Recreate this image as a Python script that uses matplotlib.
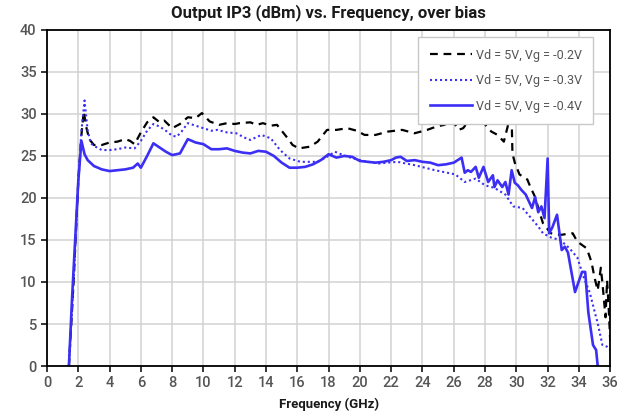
import matplotlib
matplotlib.use("Agg")
import matplotlib.pyplot as plt

plt.rcParams['font.family'] = ['Roboto', 'DejaVu Sans']

# Vd = 5V, Vg = -0.2V (dashed black)
freq_02 = [1.4, 1.7, 2.0, 2.2, 2.35, 2.5, 2.7, 3.0, 3.5, 4.0, 4.5, 5.0, 5.3, 5.6, 6.0, 6.4, 6.8,
           7.2, 7.5, 8.0, 8.5, 9.0, 9.5, 9.9, 10.4, 11.0, 11.5, 12.0, 12.3, 13.0, 13.4, 13.8,
           14.3, 14.7, 15.3, 15.7, 16.1, 16.8, 17.3, 17.9, 18.5, 19.2, 19.8, 20.3, 21.0, 21.8,
           22.7, 23.5, 24.3, 24.9, 25.4, 25.9, 26.3, 26.6, 27.0, 27.4, 27.8, 28.1, 28.4, 28.8,
           29.2, 29.5, 29.7, 29.75, 29.9, 30.2, 30.7, 30.9, 31.2, 31.5, 31.7, 32.2, 32.8, 33.6,
           33.9, 34.5, 34.8, 35.0, 35.2, 35.4, 35.5, 35.6, 35.7, 35.8, 35.9, 36.0]
oip3_02 = [0, 10, 22, 27.5, 30.3, 28.5, 27.0, 26.3, 26.3, 26.6, 26.7, 27.0, 26.8, 26.4, 27.8,
           29.0, 29.6, 29.0, 29.2, 28.3, 28.8, 29.6, 29.5, 30.1, 29.1, 28.7, 28.9, 28.8, 28.9,
           29.0, 28.7, 28.9, 28.6, 28.7, 27.3, 26.3, 25.9, 26.1, 26.7, 28.1, 28.1, 28.3, 28.0,
           27.5, 27.5, 27.9, 28.1, 27.7, 28.1, 28.5, 28.7, 29.3, 28.1, 28.3, 29.3, 29.1, 29.3,
           28.5, 27.9, 27.5, 26.7, 28.9, 29.5, 25.3, 24.2, 22.8, 22.2, 21.3, 20.1, 18.2, 17.0,
           15.8, 15.6, 15.8, 14.8, 14.0, 12.4, 10.5, 9.0, 11.7, 9.9, 7.9, 5.8, 10.2, 7.0, 3.0]

# Vd = 5V, Vg = -0.3V (dotted blue)
freq_03 = [1.4, 1.7, 2.0, 2.2, 2.4, 2.6, 2.8, 3.0, 3.5, 4.0, 4.5, 5.0, 5.6, 6.0, 6.4, 6.8, 7.2,
           7.6, 8.0, 8.3, 8.6, 9.0, 9.5, 10.0, 10.5, 10.9, 11.5, 12.1, 12.6, 13.0, 13.7, 14.3,
           14.9, 15.5, 16.2, 17.3, 17.9, 18.4, 19.2, 19.8, 20.5, 21.2, 22.4, 23.5, 24.8, 26.1,
           26.7, 27.4, 28.0, 28.6, 29.3, 29.8, 30.4, 30.9, 31.4, 31.7, 32.2, 32.8, 33.4, 33.9,
           34.3, 34.7, 35.0, 35.2, 35.5, 35.8, 36.0]
oip3_03 = [0, 10, 22, 28, 31.6, 28, 26.5, 26.2, 25.7, 25.7, 25.8, 26.0, 25.9, 26.8, 28.0, 28.8,
           28.5, 28.0, 27.4, 27.3, 27.9, 28.9, 28.6, 28.3, 28.0, 28.1, 27.8, 27.7, 27.2, 26.9,
           27.5, 27.1, 25.7, 24.7, 24.3, 24.3, 24.9, 25.5, 24.9, 24.6, 24.3, 24.1, 24.3, 23.9,
           23.3, 22.8, 21.9, 22.3, 21.5, 21.2, 20.4, 19.0, 18.8, 17.7, 16.6, 15.8, 15.3, 15.0,
           14.0, 12.9, 10.6, 8.7, 6.5, 5.1, 2.5, 2.3, 1.9]

# Vd = 5V, Vg = -0.4V (solid blue)
freq_04 = [1.4, 1.6, 1.8, 2.0, 2.2, 2.4, 2.6, 3.0, 3.5, 4.0, 4.5, 5.0, 5.5, 5.8, 6.0, 6.4, 6.8,
           7.2, 7.6, 8.0, 8.5, 9.0, 9.5, 10.0, 10.5, 11.0, 11.5, 12.0, 12.5, 13.0, 13.5, 14.0,
           14.5, 15.0, 15.5, 16.0, 16.5, 17.0, 17.5, 18.0, 18.5, 19.0, 19.5, 20.0, 20.5, 21.0,
           21.5, 22.0, 22.3, 22.6, 23.0, 23.5, 24.0, 24.5, 25.0, 25.5, 26.0, 26.5, 26.7, 26.9,
           27.1, 27.4, 27.6, 27.9, 28.2, 28.5, 28.6, 28.8, 29.1, 29.3, 29.5, 29.7, 29.9, 30.1,
           30.3, 30.6, 31.0, 31.2, 31.4, 31.6, 31.8, 32.0, 32.1, 32.3, 32.6, 32.9, 33.1, 33.3,
           33.75, 34.2, 34.4, 34.6, 34.9, 35.1, 35.2]
oip3_04 = [0, 8, 15, 22, 26.8, 25.2, 24.5, 23.8, 23.4, 23.2, 23.3, 23.4, 23.6, 24.1, 23.6, 25.0,
           26.5, 26.0, 25.5, 25.1, 25.3, 27.0, 26.6, 26.4, 25.8, 25.8, 25.9, 25.6, 25.4, 25.3,
           25.6, 25.5, 25.0, 24.2, 23.6, 23.6, 23.7, 24.0, 24.5, 25.2, 24.8, 25.0, 24.9, 24.4,
           24.3, 24.2, 24.3, 24.5, 24.8, 24.9, 24.4, 24.5, 24.3, 24.2, 23.9, 24.0, 24.2, 24.8,
           23.0, 23.3, 23.1, 23.7, 22.4, 23.7, 21.9, 22.7, 21.3, 22.1, 21.3, 21.9, 20.4, 23.3,
           21.8, 21.5, 21.0, 20.4, 18.8, 20.1, 18.3, 19.0, 17.6, 24.7, 15.8, 16.5, 18.0, 13.8,
           14.2, 13.5, 8.8, 11.2, 11.2, 6.4, 2.5, 1.9, 0]

labels = ["Vd = 5V, Vg = -0.2V", "Vd = 5V, Vg = -0.3V", "Vd = 5V, Vg = -0.4V"]
x_ticks = list(range(0, 37, 2))
y_ticks = list(range(0, 41, 5))

blue = '#3b2ef5'
txt = '#555555'

fig = plt.figure(figsize=(6.3, 4.15), dpi=100)
ax = fig.add_axes([0.0746, 0.118, 0.894, 0.81])

l1, = ax.plot(freq_02, oip3_02, color='black', lw=1.6, label=labels[0])
l1.set_dashes([3.5, 2.6])
ax.plot(freq_03, oip3_03, color=blue, lw=1.5, linestyle=(0, (1, 1.4)), label=labels[1])
ax.plot(freq_04, oip3_04, color=blue, lw=1.9, label=labels[2])

ax.set_xlim(0, 36)
ax.set_ylim(0, 40)
ax.set_xticks(x_ticks)
ax.set_yticks(y_ticks)
ax.grid(True, color='#d2d2d2', lw=1.1)
ax.set_axisbelow(True)
for s in ax.spines.values():
    s.set_color('black')
    s.set_linewidth(1.3)
ax.tick_params(axis='both', direction='out', length=4, width=1.1, color='black',
               labelcolor=txt, labelsize=10.5)
for lab in ax.get_xticklabels() + ax.get_yticklabels():
    lab.set_fontweight('medium')

ax.set_title("Output IP3 (dBm) vs. Frequency, over bias", fontsize=12,
             fontweight='bold', color='#1a1a1a', pad=9)
ax.set_xlabel("Frequency (GHz)", fontsize=9.5, fontweight='bold', color='#1a1a1a', labelpad=5)

leg = ax.legend(loc='upper right', bbox_to_anchor=(0.97, 0.978), fontsize=9,
                handlelength=3.4, labelspacing=1.0, borderpad=0.9, handletextpad=0.3,
                fancybox=False, framealpha=1, edgecolor='#c8c8c8', borderaxespad=0)
for t in leg.get_texts():
    t.set_color(txt)

fig.savefig('out.png', dpi=100)
